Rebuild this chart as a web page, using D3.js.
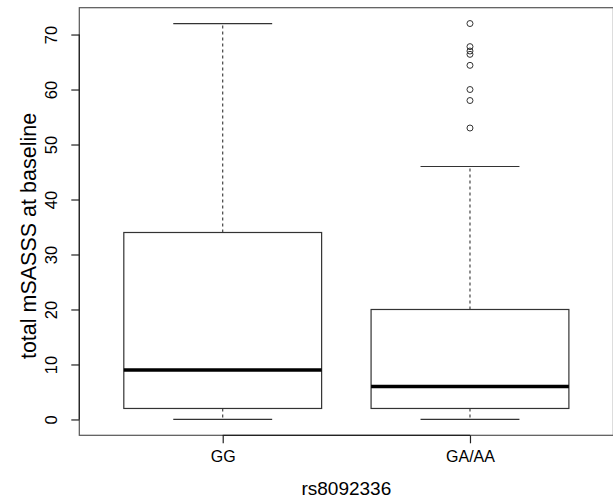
<!DOCTYPE html>
<html>
<head>
<meta charset="utf-8">
<script src="https://cdn.jsdelivr.net/npm/d3@7"></script>
<style>
  html, body { margin: 0; padding: 0; background: #fff; }
  text { font-family: "Liberation Sans", Arial, Helvetica, sans-serif; fill: #000; }
</style>
</head>
<body>
<svg id="chart" width="613" height="498"></svg>
<script>
// Groups on the x axis.
const groups = ["GG", "GA/AA"];

// Five-number summaries per group: lower whisker, Q1, median, Q3, upper whisker.
const lowerWhisker = [0, 0];
const q1 = [2, 2];
const median = [9, 6];
const q3 = [34, 20];
const upperWhisker = [72, 46];

// Outlying points per group.
const outliers = [
  [],
  [72, 67.8, 67, 66.4, 64.4, 60, 58, 53]
];

// Axis ticks and labels.
const yTicks = [0, 10, 20, 30, 40, 50, 60, 70];
const xTitle = "rs8092336";
const yTitle = "total mSASSS at baseline";

const svg = d3.select("#chart");

// R style plot region: data range padded by 4% on each side.
const x = d3.scaleLinear().domain([0.42, 2.58]).range([79.3, 613.4]);
const y = d3.scaleLinear().domain([-2.88, 74.88]).range([435.3, 7.7]);

const boxHalf = 0.4;
const capHalf = 0.2;
const lineColor = "#333";

// Frame around the plot region.
svg.append("rect")
  .attr("x", x.range()[0])
  .attr("y", y.range()[1])
  .attr("width", x.range()[1] - x.range()[0])
  .attr("height", y.range()[0] - y.range()[1])
  .attr("fill", "none")
  .attr("stroke", "#555")
  .attr("stroke-width", 1.2);

// One group element per box.
const box = svg.append("g").selectAll("g.box")
  .data(groups.map((g, i) => ({
    name: g,
    pos: i + 1,
    lo: lowerWhisker[i], q1: q1[i], med: median[i], q3: q3[i], hi: upperWhisker[i],
    out: outliers[i]
  })))
  .join("g")
  .attr("class", "box");

// Dashed whiskers.
box.append("line")
  .attr("x1", (d) => x(d.pos)).attr("x2", (d) => x(d.pos))
  .attr("y1", (d) => y(d.q3)).attr("y2", (d) => y(d.hi))
  .attr("stroke", lineColor).attr("stroke-width", 1.1)
  .attr("stroke-dasharray", "3,3");
box.append("line")
  .attr("x1", (d) => x(d.pos)).attr("x2", (d) => x(d.pos))
  .attr("y1", (d) => y(d.q1)).attr("y2", (d) => y(d.lo))
  .attr("stroke", lineColor).attr("stroke-width", 1.1)
  .attr("stroke-dasharray", "3,3");

// Whisker caps.
box.selectAll("line.cap")
  .data((d) => [d.lo, d.hi].map((v) => ({ pos: d.pos, v })))
  .join("line")
  .attr("class", "cap")
  .attr("x1", (d) => x(d.pos - capHalf)).attr("x2", (d) => x(d.pos + capHalf))
  .attr("y1", (d) => y(d.v)).attr("y2", (d) => y(d.v))
  .attr("stroke", lineColor).attr("stroke-width", 1.2);

// Boxes.
box.append("rect")
  .attr("x", (d) => x(d.pos - boxHalf))
  .attr("width", (d) => x(d.pos + boxHalf) - x(d.pos - boxHalf))
  .attr("y", (d) => y(d.q3))
  .attr("height", (d) => y(d.q1) - y(d.q3))
  .attr("fill", "#fff")
  .attr("stroke", lineColor).attr("stroke-width", 1.2);

// Medians.
box.append("line")
  .attr("x1", (d) => x(d.pos - boxHalf)).attr("x2", (d) => x(d.pos + boxHalf))
  .attr("y1", (d) => y(d.med)).attr("y2", (d) => y(d.med))
  .attr("stroke", "#000").attr("stroke-width", 3.4);

// Outliers as open circles.
box.selectAll("circle")
  .data((d) => d.out.map((v) => ({ pos: d.pos, v })))
  .join("circle")
  .attr("cx", (d) => x(d.pos))
  .attr("cy", (d) => y(d.v))
  .attr("r", 3)
  .attr("fill", "none")
  .attr("stroke", lineColor)
  .attr("stroke-width", 1);

// Y axis, drawn from first to last tick as R does.
const yAxis = svg.append("g")
  .attr("transform", `translate(${x.range()[0]},0)`)
  .call(d3.axisLeft(y).tickValues(yTicks).tickSizeOuter(0).tickSize(8).tickPadding(0).tickFormat(d3.format("d")));
yAxis.select(".domain")
  .attr("d", `M0,${y(yTicks[0])}V${y(yTicks[yTicks.length - 1])}`)
  .attr("stroke", "#222");
yAxis.selectAll(".tick line").attr("stroke", "#222");
yAxis.selectAll(".tick text")
  .attr("x", null).attr("dy", null)
  .attr("transform", "translate(-22,0) rotate(-90)")
  .attr("text-anchor", "middle")
  .style("font-size", "16.5px");

// X axis, from first to last group.
const xAxis = svg.append("g")
  .attr("transform", `translate(0,${y.range()[0]})`)
  .call(d3.axisBottom(x).tickValues([1, 2]).tickSizeOuter(0).tickSize(8)
    .tickFormat((d) => groups[d - 1]));
xAxis.select(".domain")
  .attr("d", `M${x(1)},0H${x(2)}`)
  .attr("stroke", "#222");
xAxis.selectAll(".tick line").attr("stroke", "#222");
xAxis.selectAll(".tick text")
  .attr("y", 27).attr("dy", null)
  .style("font-size", "16px");
svg.selectAll(".domain, .tick line").attr("stroke-width", 1.2);

// Axis titles.
svg.append("text")
  .attr("x", (x.range()[0] + x.range()[1]) / 2)
  .attr("y", 495)
  .attr("text-anchor", "middle")
  .style("font-size", "19px")
  .text(xTitle);

svg.append("text")
  .attr("transform", "translate(36,236) rotate(-90)")
  .attr("text-anchor", "middle")
  .style("font-size", "21.5px")
  .text(yTitle);
</script>
</body>
</html>
